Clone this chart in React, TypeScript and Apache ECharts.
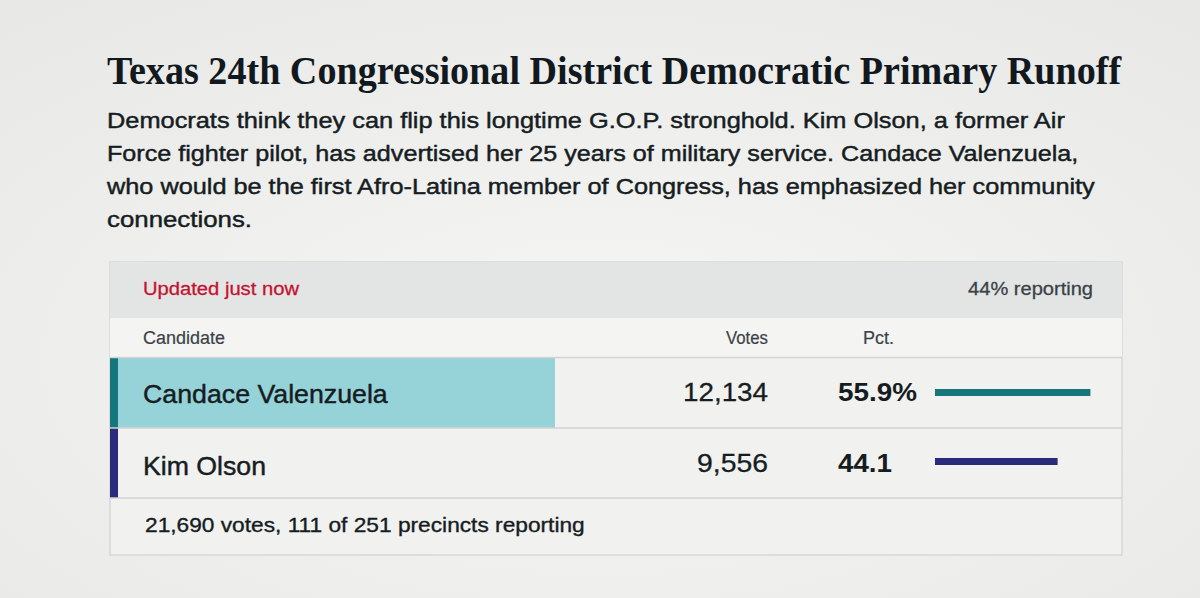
import React, { useEffect, useRef } from "react";
import * as echarts from "echarts";

// ---------- data ----------
const titleText = "Texas 24th Congressional District Democratic Primary Runoff";
const descLines = [
  "Democrats think they can flip this longtime G.O.P. stronghold. Kim Olson, a former Air",
  "Force fighter pilot, has advertised her 25 years of military service. Candace Valenzuela,",
  "who would be the first Afro-Latina member of Congress, has emphasized her community",
  "connections.",
];
const updatedText = "Updated just now";
const reportingPct = 44;
const columnHeads = ["Candidate", "Votes", "Pct."];
const candidates = ["Candace Valenzuela", "Kim Olson"];
const votes = [12134, 9556];
const pct = [55.9, 44.1];
const pctLabels = ["55.9%", "44.1"];
const totalVotes = 21690;
const precinctsReporting = 111;
const precinctsTotal = 251;

// ---------- styles / layout ----------
const candColors = ["#15767c", "#2a2c7b"];
const winnerFill = "#96d3d9";
const descWidths = [960, 972, 990, 145];
const descY = [121, 154, 186.5, 219];
const nameY = [394, 466];
const numY = [392.5, 463];
const nameW = [245, 123];
const voteW = [85, 71];
const pctW = [79, 54];

const SANS = '"Liberation Sans", Arial, sans-serif';
const SERIF = '"Liberation Serif", "Times New Roman", serif';

let ctx: CanvasRenderingContext2D | null = null;
function measure(text: string, size: number, family: string, weight: string) {
  if (!ctx) ctx = document.createElement("canvas").getContext("2d");
  if (!ctx) return text.length * size * 0.5;
  ctx.font = `${weight} ${size}px ${family}`;
  return ctx.measureText(text).width;
}

function txt(
  text: string,
  x: number,
  y: number,
  size: number,
  color: string,
  opts: { family?: string; weight?: string; align?: string; width?: number; heavy?: number } = {}
) {
  const family = opts.family || SANS;
  const weight = opts.weight || "normal";
  const align = opts.align || "left";
  let scaleX = 1;
  if (opts.width) scaleX = opts.width / measure(text, size, family, weight);
  const style: any = {
    text,
    fill: color,
    fontSize: size,
    fontFamily: family,
    fontWeight: weight,
    align,
    textAlign: align,
    verticalAlign: "middle",
    textVerticalAlign: "middle",
  };
  if (opts.heavy) {
    style.stroke = color;
    style.lineWidth = opts.heavy;
  }
  return { type: "text", x, y, scaleX, silent: true, z: 10, style };
}

export default function App() {
  const ref = useRef<HTMLDivElement>(null);

  useEffect(() => {
    if (!ref.current) return;
    const chart = echarts.init(ref.current, undefined, { renderer: "svg" });

    const dark = "#161d22";
    const mid = "#3a4246";
    const lineCol = "#d2d3d2";
    const boxL = 110;
    const boxR = 1122;
    const boxT = 262;
    const boxB = 555;

    const graphics: any[] = [];

    // page background (photo-like)
    graphics.push({
      type: "rect",
      shape: { x: 0, y: 0, width: 1200, height: 598 },
      silent: true,
      z: 0,
      style: {
        fill: new echarts.graphic.RadialGradient(0.5, 0.6, 0.85, [
          { offset: 0, color: "#f6f6f5" },
          { offset: 1, color: "#e6e6e4" },
        ]),
      },
    });

    // title
    graphics.push(
      txt(titleText, 107, 70.5, 41, "#12191e", {
        family: SERIF,
        weight: "bold",
        width: 1015,
      })
    );
    // description
    descLines.forEach((l, i) => {
      graphics.push(txt(l, 107, descY[i], 22, dark, { width: descWidths[i], heavy: 0.45 }));
    });

    // table box
    graphics.push({
      type: "rect",
      shape: { x: boxL, y: boxT, width: boxR - boxL, height: boxB - boxT },
      silent: true,
      z: 1,
      style: { fill: "#f1f1f0", stroke: "#d6d7d6", lineWidth: 1.5 },
    });
    graphics.push({
      type: "rect",
      shape: { x: boxL, y: boxT, width: boxR - boxL, height: 56 },
      silent: true,
      z: 2,
      style: { fill: "#e3e5e5" },
    });
    graphics.push({
      type: "rect",
      shape: { x: boxL, y: 318, width: boxR - boxL, height: 39 },
      silent: true,
      z: 2,
      style: { fill: "#f4f4f3" },
    });
    // winner highlight
    graphics.push({
      type: "rect",
      shape: { x: boxL, y: 358, width: 555 - boxL, height: 70 },
      silent: true,
      z: 2,
      style: { fill: winnerFill },
    });
    // candidate stripes
    candidates.forEach((_, i) => {
      graphics.push({
        type: "rect",
        shape: { x: boxL, y: 358 + i * 70, width: 8, height: 70 },
        silent: true,
        z: 3,
        style: { fill: candColors[i] },
      });
    });
    // row separators
    [357.5, 428, 498].forEach((y) => {
      graphics.push({
        type: "line",
        shape: { x1: boxL, y1: y, x2: boxR, y2: y },
        silent: true,
        z: 4,
        style: { stroke: lineCol, lineWidth: 1.5 },
      });
    });

    // header band texts
    graphics.push(txt(updatedText, 143, 288, 19, "#c4122f", { width: 156, heavy: 0.3 }));
    graphics.push(
      txt(`${reportingPct}% reporting`, 1093, 288, 19, mid, { align: "right", width: 125, heavy: 0.3 })
    );
    // column heads
    graphics.push(txt(columnHeads[0], 143, 337.5, 18, mid, { width: 82, heavy: 0.2 }));
    graphics.push(txt(columnHeads[1], 768, 337.5, 18, mid, { align: "right", width: 42, heavy: 0.2 }));
    graphics.push(txt(columnHeads[2], 863, 337.5, 18, mid, { width: 31, heavy: 0.2 }));

    // rows
    candidates.forEach((c, i) => {
      graphics.push(txt(c, 143, nameY[i], 26, dark, { width: nameW[i], heavy: 0.45 }));
      graphics.push(
        txt(votes[i].toLocaleString("en-US"), 768, numY[i], 26, dark, {
          align: "right",
          width: voteW[i],
          heavy: 0.3,
        })
      );
      graphics.push(
        txt(pctLabels[i], 838, numY[i], 26, dark, { weight: "bold", width: pctW[i] })
      );
    });

    // footer
    graphics.push(
      txt(
        `${totalVotes.toLocaleString("en-US")} votes, ${precinctsReporting} of ${precinctsTotal} precincts reporting`,
        145,
        525,
        20,
        dark,
        { width: 440, heavy: 0.35 }
      )
    );

    chart.setOption({
      animation: false,
      backgroundColor: "transparent",
      grid: {
        left: 935,
        top: 358,
        width: 278,
        height: 138,
        containLabel: false,
        outerBoundsMode: "none",
      },
      xAxis: {
        type: "value",
        min: 0,
        max: 100,
        show: false,
      },
      yAxis: {
        type: "category",
        data: candidates,
        inverse: true,
        show: false,
      },
      graphic: { elements: graphics },
      series: [
        {
          type: "bar",
          barWidth: 7,
          z: 20,
          silent: true,
          data: pct.map((v, i) => ({ value: v, itemStyle: { color: candColors[i] } })),
        },
      ],
    });

    return () => chart.dispose();
  }, []);

  return (
    <div
      ref={ref}
      style={{ position: "absolute", left: 0, top: 0, width: 1200, height: 598 }}
    />
  );
}
